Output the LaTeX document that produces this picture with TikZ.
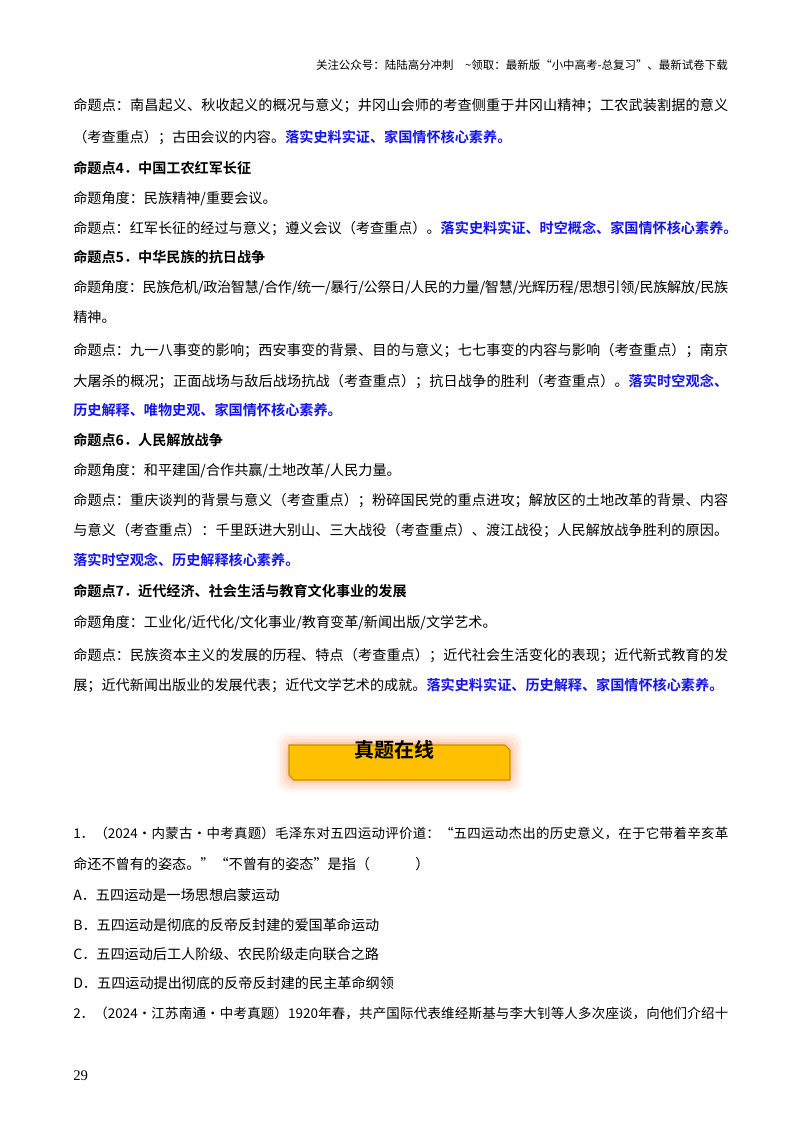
\documentclass[tikz,border=0pt]{standalone}
\usepackage{fontspec}
\setmainfont{Noto Sans CJK SC}[BoldFont=Noto Sans CJK SC Bold]
\newfontfamily\numfont{Liberation Serif}
\XeTeXlinebreaklocale "zh"
\XeTeXlinebreakskip=0pt plus 1pt minus 0.3pt
\definecolor{hlblue}{RGB}{20,20,235}
\definecolor{banyel}{RGB}{255,192,0}
\definecolor{banedge}{RGB}{200,140,0}
\definecolor{glow}{RGB}{255,140,80}
\newcommand{\hlt}[1]{{\bfseries\color{hlblue}#1}}
\begin{document}
\begin{tikzpicture}[x=0.75pt,y=-0.75pt,
  ln/.style={anchor=base west,inner sep=0pt,font=\fontsize{10.6pt}{13pt}\selectfont},
  full/.style={ln,text width=491.25pt,align=justify,execute at begin node={\parfillskip=0pt\relax}},
  hd/.style={ln,font=\fontsize{10.6pt}{13pt}\selectfont\bfseries}]
\useasboundingbox[fill=white] (0,0) rectangle (800,1132);
\node[anchor=base east,inner sep=0pt,font=\fontsize{8.6pt}{11pt}\selectfont] (hdr) at (728,69) {关注公众号：陆陆高分冲刺\quad \~{}领取：最新版“小中高考-总复习”、最新试卷下载};
\node[full] (l1) at (73,110) {命题点：南昌起义、秋收起义的概况与意义；井冈山会师的考查侧重于井冈山精神；工农武装割据的意义};
\node[ln] (l2) at (73,142) {（考查重点）；古田会议的内容。\hlt{落实史料实证、家国情怀核心素养。}};
\node[hd] (l3) at (73,173) {命题点4．中国工农红军长征};
\node[ln] (l4) at (73,203) {命题角度：民族精神/重要会议。};
\node[ln] (l5) at (73,233) {命题点：红军长征的经过与意义；遵义会议（考查重点）。\hlt{落实史料实证、时空概念、家国情怀核心素养。}};
\node[hd] (l6) at (73,262) {命题点5．中华民族的抗日战争};
\node[full] (l7) at (73,292) {命题角度：民族危机/政治智慧/合作/统一/暴行/公祭日/人民的力量/智慧/光辉历程/思想引领/民族解放/民族};
\node[ln] (l8) at (73,322) {精神。};
\node[full] (l9) at (73,355) {命题点：九一八事变的影响；西安事变的背景、目的与意义；七七事变的内容与影响（考查重点）；南京};
\node[full] (l10) at (73,386) {大屠杀的概况；正面战场与敌后战场抗战（考查重点）；抗日战争的胜利（考查重点）。\hlt{落实时空观念、}};
\node[ln] (l11) at (73,415) {\hlt{历史解释、唯物史观、家国情怀核心素养。}};
\node[hd] (l12) at (73,445) {命题点6．人民解放战争};
\node[ln] (l13) at (73,475) {命题角度：和平建国/合作共赢/土地改革/人民力量。};
\node[full] (l14) at (73,505) {命题点：重庆谈判的背景与意义（考查重点）；粉碎国民党的重点进攻；解放区的土地改革的背景、内容};
\node[full] (l15) at (73,535) {与意义（考查重点）：千里跃进大别山、三大战役（考查重点）、渡江战役；人民解放战争胜利的原因。};
\node[ln] (l16) at (73,565) {\hlt{落实时空观念、历史解释核心素养。}};
\node[hd] (l17) at (73,596) {命题点7．近代经济、社会生活与教育文化事业的发展};
\node[ln] (l18) at (73,627) {命题角度：工业化/近代化/文化事业/教育变革/新闻出版/文学艺术。};
\node[full] (l19) at (73,660) {命题点：民族资本主义的发展的历程、特点（考查重点）；近代社会生活变化的表现；近代新式教育的发};
\node[ln] (l20) at (73,690) {展；近代新闻出版业的发展代表；近代文学艺术的成就。\hlt{落实史料实证、历史解释、家国情怀核心素养。}};
% banner
\foreach \g/\o in {12/0.08,9/0.1,6/0.14,3/0.2}
  \fill[glow,opacity=\o,rounded corners=8] (289-\g,745-\g) rectangle (510+\g,780+\g);
\draw[banedge,fill=banyel,line width=0.8pt] (289,745) -- (505,745) -- (510,750) -- (510,780) -- (294,780) -- (289,775) -- cycle;
\node[inner sep=0pt,font=\fontsize{15pt}{18pt}\selectfont\bfseries] (ban) at (394,750) {真题在线};
\node[full,font=\fontsize{10.1pt}{13pt}\selectfont] (q1) at (73,838) {1．（2024·内蒙古·中考真题）毛泽东对五四运动评价道：“五四运动杰出的历史意义，在于它带着辛亥革};
\node[ln] (q1b) at (73,869) {命还不曾有的姿态。”“不曾有的姿态”是指（\hspace{3.2em}）};
\node[ln] (qa) at (73,900) {A．五四运动是一场思想启蒙运动};
\node[ln] (qb) at (73,930) {B．五四运动是彻底的反帝反封建的爱国革命运动};
\node[ln] (qc) at (73,959) {C．五四运动后工人阶级、农民阶级走向联合之路};
\node[ln] (qd) at (73,988) {D．五四运动提出彻底的反帝反封建的民主革命纲领};
\node[full,font=\fontsize{10.1pt}{13pt}\selectfont] (q2) at (73,1018) {2．（2024·江苏南通·中考真题）1920年春，共产国际代表维经斯基与李大钊等人多次座谈，向他们介绍十};
\node[ln,font=\numfont\fontsize{11pt}{13pt}\selectfont] (pg) at (73,1080) {29};
\end{tikzpicture}
\end{document}
